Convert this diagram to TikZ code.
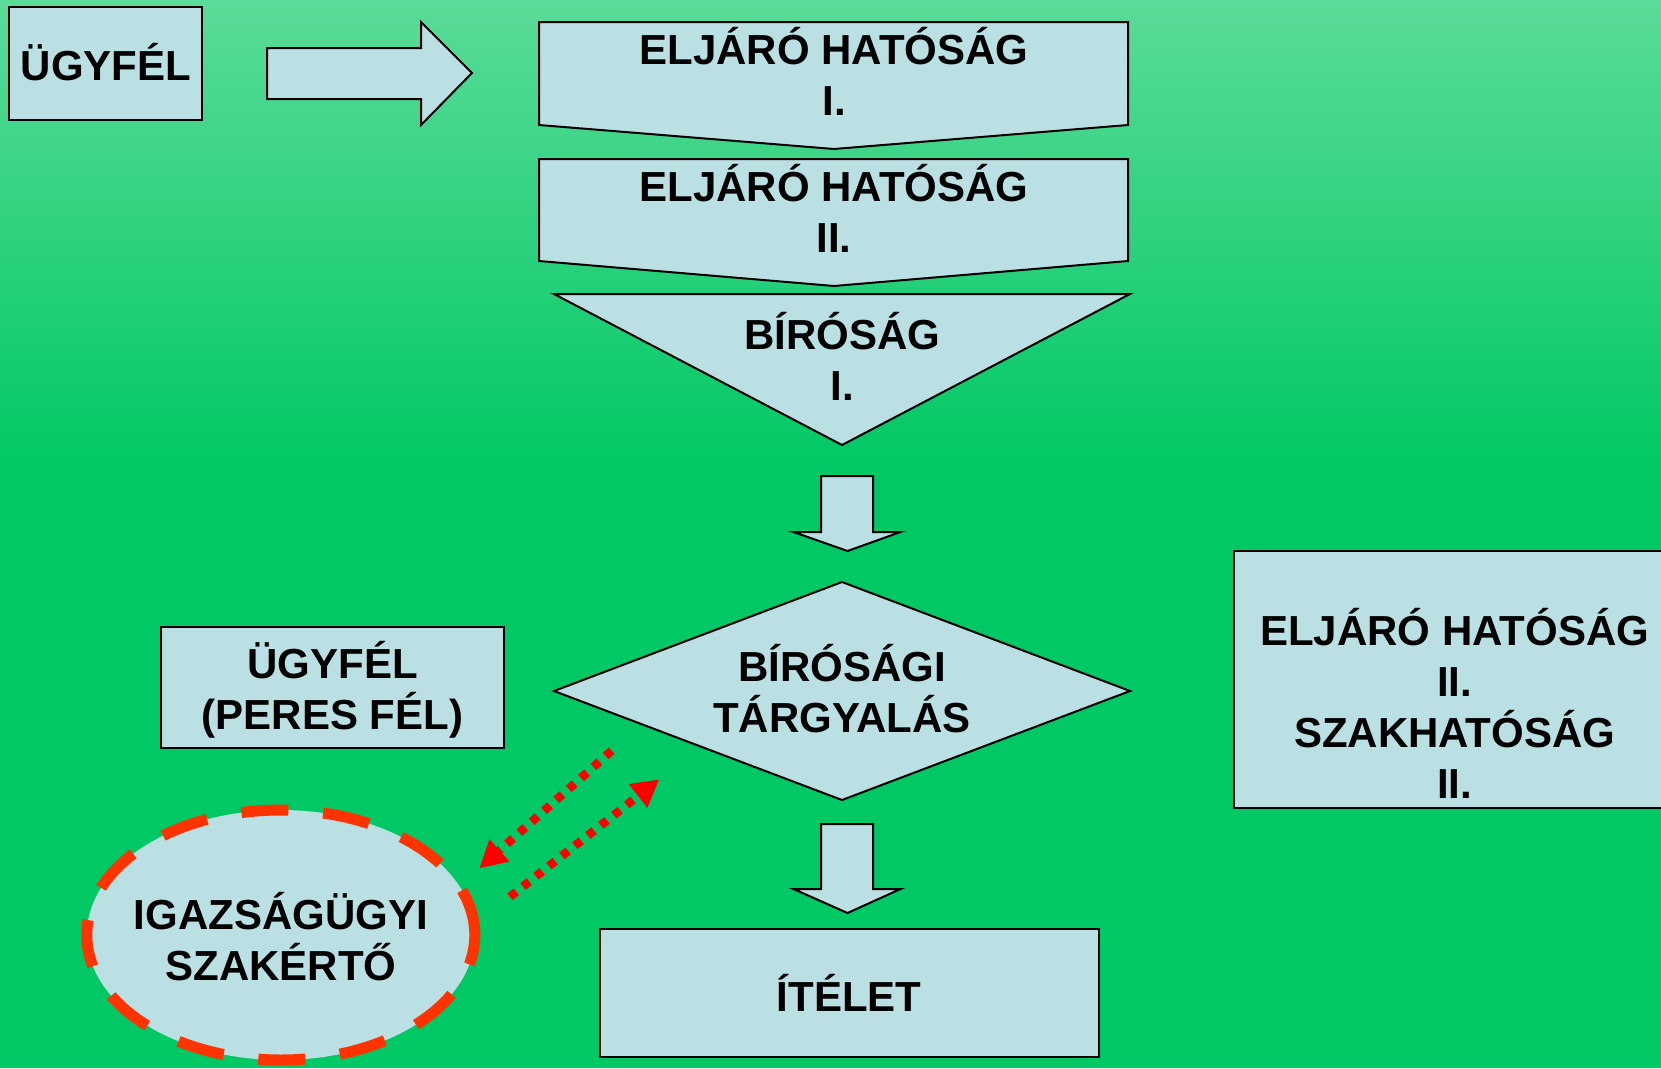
\documentclass[tikz,border=0pt]{standalone}
\usepackage{fontspec}
\setmainfont{Liberation Sans}
\usetikzlibrary{shapes.geometric,arrows.meta}
\definecolor{bgtop}{RGB}{91,219,153}
\definecolor{bggreen}{RGB}{0,200,100}
\definecolor{boxfill}{RGB}{187,224,227}
\definecolor{dashred}{RGB}{255,51,0}
\definecolor{arrred}{RGB}{255,0,0}
\newcommand{\lstrut}{\vrule height 40pt depth 11pt width 0pt}
\begin{document}
\begin{tikzpicture}[x=1pt,y=-1pt,
  shapebox/.style={fill=boxfill,draw=black,line width=2pt,line join=miter},
  lbl/.style={font=\fontsize{42}{51}\selectfont\bfseries,align=center,inner sep=0pt,text=black},
  dotarrow/.style={draw=arrred,line width=8.5pt,dash pattern=on 8pt off 8.5pt,
     -{Triangle[length=27pt,width=28pt]}},
  expertshape/.style={ellipse,fill=boxfill,draw=dashred,line width=11pt,
     dash pattern=on 47pt off 35pt,minimum width=388pt,minimum height=250pt,inner sep=0pt}
]
\useasboundingbox (0,0) rectangle (1661,1068);
\clip (0,0) rectangle (1661,1068);
% background
\fill[bggreen] (0,0) rectangle (1661,1068);
\fill[top color=bgtop,bottom color=bggreen] (0,0) rectangle (1661,470);

% top client box and block arrow
\draw[shapebox] (9,7) rectangle (202,120);
\node[lbl] (client) at (106,65.5) {\lstrut ÜGYFÉL};
\draw[shapebox] (267,48) -- (421,48) -- (421,22) -- (472,73) -- (421,125) -- (421,99) -- (267,99) -- cycle;

% Eljáró hatóság I
\draw[shapebox] (539,22) -- (1128,22) -- (1128,125) -- (834,149) -- (539,125) -- cycle;
\node[lbl] (auth1) at (834,75.6) {\lstrut ELJÁRÓ HATÓSÁG\\\lstrut I.};
% Eljáró hatóság II
\draw[shapebox] (539,159) -- (1128,159) -- (1128,261) -- (834,286) -- (539,261) -- cycle;
\node[lbl] (auth2) at (834,212) {\lstrut ELJÁRÓ HATÓSÁG\\\lstrut II.};
% Bíróság I triangle
\draw[shapebox] (554,294) -- (1130,294) -- (842,445) -- cycle;
\node[lbl] (court1) at (842,360.6) {\lstrut BÍRÓSÁG\\\lstrut I.};

% down arrow 1
\draw[shapebox] (821,476) -- (873,476) -- (873,532) -- (900.5,532) -- (847.5,551) -- (793.5,532) -- (821,532) -- cycle;

% diamond
\draw[shapebox] (554,691) -- (842,582) -- (1130,691) -- (842,800) -- cycle;
\node[lbl] (hearing) at (842,692) {\lstrut BÍRÓSÁGI\\\lstrut TÁRGYALÁS};

% down arrow 2
\draw[shapebox] (821,824) -- (873,824) -- (873,889) -- (900.5,889) -- (847.5,913) -- (793.5,889) -- (821,889) -- cycle;

% verdict box
\draw[shapebox] (599.6,929) rectangle (1098.6,1057);
\node[lbl] (verdict) at (849,997) {\lstrut ÍTÉLET};

% client (party) box
\draw[shapebox] (161,627) rectangle (504,748);
\node[lbl] (client2) at (332.5,689) {\lstrut ÜGYFÉL\\\lstrut (PERES FÉL)};

% right box
\draw[shapebox] (1234,551) rectangle (1700,808);
\node[lbl] (authright) at (1454.6,707) {\lstrut ELJÁRÓ HATÓSÁG\\\lstrut II.\\\lstrut SZAKHATÓSÁG\\\lstrut II.};

% expert ellipse
\node[expertshape] (expert) at (280.8,935) {};
\node[lbl] (experttext) at (281,940) {\lstrut IGAZSÁGÜGYI\\\lstrut SZAKÉRTŐ};

% dotted connectors
\coordinate (aStart) at (611.7,750.7);
\coordinate (aEnd) at (479.3,868.3);
\coordinate (bStart) at (510,896.7);
\coordinate (bEnd) at (659.3,779.3);
\draw[dotarrow] (aStart) -- (aEnd);
\draw[dotarrow] (bStart) -- (bEnd);
\end{tikzpicture}
\end{document}
